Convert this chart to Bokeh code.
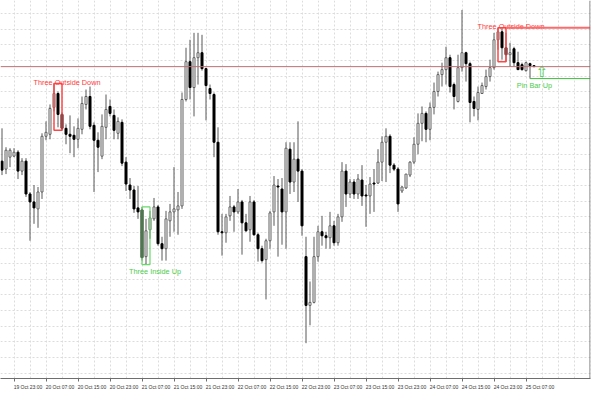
import numpy as np
import pandas as pd
from bokeh.plotting import figure
from bokeh.models import ColumnDataSource, FixedTicker, Range1d, Span
from bokeh.core.properties import value
from bokeh.embed import file_html
from bokeh.resources import INLINE

# ---------------- data (hourly candles, 19 Oct 20:00 -> 25 Oct 09:00) ----------------
start_time = "2023-10-19 20:00"

open_ = [1.0838, 1.0830, 1.0842, 1.0843, 1.0847, 1.0828, 1.0838, 1.0805, 1.0797, 1.0790,
         1.0807, 1.0863, 1.0865, 1.0892, 1.0906, 1.0885, 1.0871, 1.0865, 1.0864, 1.0860,
         1.0870, 1.0895, 1.0903, 1.0874, 1.0859, 1.0843, 1.0872, 1.0893, 1.0884, 1.0866,
         1.0877, 1.0837, 1.0814, 1.0809, 1.0791, 1.0789, 1.0742, 1.0769, 1.0780, 1.0792,
         1.0755, 1.0750, 1.0778, 1.0787, 1.0789, 1.0793, 1.0900, 1.0938, 1.0912, 1.0942,
         1.0947, 1.0931, 1.0911, 1.0905, 1.0857, 1.0767, 1.0766, 1.0783, 1.0792, 1.0787,
         1.0797, 1.0776, 1.0769, 1.0797, 1.0764, 1.0750, 1.0739, 1.0758, 1.0787, 1.0813,
         1.0810, 1.0787, 1.0850, 1.0817, 1.0840, 1.0828, 1.0742, 1.0693, 1.0696, 1.0742,
         1.0767, 1.0763, 1.0761, 1.0773, 1.0756, 1.0782, 1.0828, 1.0805, 1.0817, 1.0805,
         1.0819, 1.0804, 1.0803, 1.0816, 1.0816, 1.0837, 1.0857, 1.0863, 1.0834, 1.0830,
         1.0808, 1.0811, 1.0824, 1.0837, 1.0855, 1.0876, 1.0886, 1.0870, 1.0892, 1.0908,
         1.0925, 1.0930, 1.0942, 1.0915, 1.0898, 1.0932, 1.0947, 1.0936, 1.0898, 1.0890,
         1.0906, 1.0913, 1.0923, 1.0932, 1.0960, 1.0968, 1.0952, 1.0945, 1.0951, 1.0937,
         1.0935, 1.0929, 1.0936, 1.0934]

high = [1.0871, 1.0852, 1.0851, 1.0851, 1.0849, 1.0841, 1.0841, 1.0807, 1.0814, 1.0812,
        1.0866, 1.0878, 1.0895, 1.0916, 1.0908, 1.0887, 1.0875, 1.0884, 1.0873, 1.0881,
        1.0903, 1.0910, 1.0913, 1.0877, 1.0867, 1.0885, 1.0905, 1.0900, 1.0890, 1.0882,
        1.0880, 1.0842, 1.0821, 1.0813, 1.0813, 1.0792, 1.0780, 1.0788, 1.0801, 1.0794,
        1.0762, 1.0788, 1.0795, 1.0832, 1.0807, 1.0907, 1.0952, 1.0960, 1.0967, 1.0967,
        1.0965, 1.0932, 1.0915, 1.0907, 1.0872, 1.0785, 1.0785, 1.0803, 1.0794, 1.0810,
        1.0799, 1.0785, 1.0803, 1.0799, 1.0766, 1.0753, 1.0760, 1.0788, 1.0823, 1.0820,
        1.0821, 1.0857, 1.0857, 1.0857, 1.0878, 1.0830, 1.0762, 1.0717, 1.0762, 1.0773,
        1.0783, 1.0767, 1.0787, 1.0778, 1.0785, 1.0837, 1.0835, 1.0820, 1.0820, 1.0825,
        1.0834, 1.0814, 1.0822, 1.0830, 1.0850, 1.0863, 1.0871, 1.0865, 1.0836, 1.0832,
        1.0813, 1.0825, 1.0838, 1.0862, 1.0886, 1.0893, 1.0888, 1.0897, 1.0917, 1.0928,
        1.0937, 1.0953, 1.0945, 1.0917, 1.0945, 1.0990, 1.0948, 1.0938, 1.0903, 1.0913,
        1.0917, 1.0930, 1.0940, 1.0967, 1.0972, 1.0971, 1.0967, 1.0957, 1.0953, 1.0948,
        1.0937, 1.0938, 1.0937, 1.0934]

low = [1.0824, 1.0825, 1.0832, 1.0842, 1.0820, 1.0824, 1.0802, 1.0758, 1.0775, 1.0771,
       1.0800, 1.0859, 1.0860, 1.0888, 1.0872, 1.0869, 1.0855, 1.0846, 1.0842, 1.0851,
       1.0865, 1.0890, 1.0870, 1.0807, 1.0827, 1.0840, 1.0860, 1.0883, 1.0860, 1.0860,
       1.0833, 1.0808, 1.0800, 1.0786, 1.0780, 1.0738, 1.0734, 1.0760, 1.0778, 1.0753,
       1.0738, 1.0738, 1.0762, 1.0767, 1.0764, 1.0790, 1.0898, 1.0900, 1.0883, 1.0915,
       1.0929, 1.0879, 1.0900, 1.0842, 1.0764, 1.0743, 1.0756, 1.0778, 1.0767, 1.0785,
       1.0744, 1.0767, 1.0757, 1.0763, 1.0737, 1.0736, 1.0699, 1.0750, 1.0773, 1.0742,
       1.0754, 1.0750, 1.0805, 1.0807, 1.0797, 1.0763, 1.0655, 1.0673, 1.0695, 1.0737,
       1.0753, 1.0750, 1.0750, 1.0753, 1.0753, 1.0777, 1.0792, 1.0801, 1.0800, 1.0800,
       1.0793, 1.0772, 1.0785, 1.0787, 1.0815, 1.0818, 1.0817, 1.0826, 1.0828, 1.0787,
       1.0806, 1.0810, 1.0822, 1.0835, 1.0845, 1.0858, 1.0857, 1.0859, 1.0885, 1.0903,
       1.0913, 1.0915, 1.0907, 1.0890, 1.0897, 1.0928, 1.0918, 1.0877, 1.0883, 1.0879,
       1.0906, 1.0910, 1.0918, 1.0930, 1.0950, 1.0940, 1.0938, 1.0933, 1.0933, 1.0930,
       1.0929, 1.0928, 1.0921, 1.0933]

close = [1.0829, 1.0849, 1.0849, 1.0847, 1.0828, 1.0838, 1.0805, 1.0797, 1.0791, 1.0807,
         1.0863, 1.0867, 1.0891, 1.0906, 1.0885, 1.0871, 1.0865, 1.0863, 1.0860, 1.0871,
         1.0896, 1.0903, 1.0873, 1.0859, 1.0852, 1.0873, 1.0890, 1.0886, 1.0869, 1.0878,
         1.0836, 1.0815, 1.0809, 1.0790, 1.0787, 1.0741, 1.0768, 1.0781, 1.0792, 1.0755,
         1.0750, 1.0780, 1.0787, 1.0790, 1.0793, 1.0900, 1.0938, 1.0912, 1.0942, 1.0947,
         1.0931, 1.0914, 1.0906, 1.0857, 1.0767, 1.0766, 1.0782, 1.0792, 1.0787, 1.0797,
         1.0776, 1.0768, 1.0797, 1.0764, 1.0750, 1.0738, 1.0758, 1.0786, 1.0814, 1.0812,
         1.0787, 1.0851, 1.0817, 1.0840, 1.0828, 1.0773, 1.0693, 1.0696, 1.0742, 1.0767,
         1.0763, 1.0761, 1.0773, 1.0756, 1.0782, 1.0828, 1.0805, 1.0817, 1.0805, 1.0820,
         1.0803, 1.0803, 1.0815, 1.0815, 1.0837, 1.0857, 1.0863, 1.0834, 1.0830, 1.0795,
         1.0812, 1.0825, 1.0837, 1.0855, 1.0876, 1.0886, 1.0870, 1.0892, 1.0908, 1.0925,
         1.0930, 1.0942, 1.0913, 1.0903, 1.0932, 1.0947, 1.0936, 1.0897, 1.0891, 1.0907,
         1.0914, 1.0923, 1.0932, 1.0960, 1.0968, 1.0952, 1.0945, 1.0947, 1.0937, 1.0930,
         1.0930, 1.0937, 1.0934, 1.0933]

tick_labels = ["19 Oct 23:00", "20 Oct 07:00", "20 Oct 15:00", "20 Oct 23:00",
               "21 Oct 07:00", "21 Oct 15:00", "21 Oct 23:00", "22 Oct 07:00",
               "22 Oct 15:00", "22 Oct 23:00", "23 Oct 07:00", "23 Oct 15:00",
               "23 Oct 23:00", "24 Oct 07:00", "24 Oct 15:00", "24 Oct 23:00",
               "25 Oct 07:00"]

# candlestick patterns found: name, first bar, last bar, direction
pattern_names = ["Three Outside Down", "Three Inside Up", "Three Outside Down"]
pattern_first = [13, 35, 124]
pattern_last = [15, 37, 126]
pattern_dir = ["down", "up", "down"]

pinbar_name = "Pin Bar Up"
pinbar_bar = 132

# horizontal grid (price levels)
grid_top = 1.09863
grid_step = 0.001571
grid_levels = [grid_top - k * grid_step for k in range(25)]

# ---------------- derived ----------------
n = len(open_)
idx = np.arange(n)
times = pd.date_range(start_time, periods=n, freq="h")
time_str = [t.strftime("%d Oct %H:%M") for t in times]
tick_idx = [time_str.index(lbl) for lbl in tick_labels]
label_pos = [t + 3.5 for t in tick_idx]          # left-aligned look: label centre right of tick

o = np.array(open_); h = np.array(high); l = np.array(low); c = np.array(close)
bull = c >= o
src = ColumnDataSource(dict(
    x=idx, o=o, h=h, l=l, c=c,
    top=np.maximum(o, c), bottom=np.minimum(o, c),
    fill=np.where(bull, "white", "black"),
    line=np.where(bull, "#606060", "black"),
))

X0, X1 = -0.375, 147.125
Y1 = 1.09995
Y0 = Y1 - 0.0380

p = figure(width=592, height=392, output_backend="svg", toolbar_location=None,
           x_range=Range1d(X0, X1), y_range=Range1d(Y0, Y1),
           y_axis_location=None, min_border_left=0, min_border_right=2,
           min_border_top=0, min_border_bottom=12, outline_line_color=None,
           background_fill_color="white", border_fill_color="white")

# grids
p.xgrid.ticker = FixedTicker(ticks=list(range(tick_idx[0], int(X1) + 1, 4)))
p.ygrid.ticker = FixedTicker(ticks=grid_levels)
for g in (p.xgrid, p.ygrid):
    g.grid_line_color = "#dcdcdc"
    g.grid_line_dash = "2 2"
    g.grid_line_width = 1

# x axis: minor ticks mark the bar, major (invisible) ticks carry the labels
ax = p.xaxis[0]
ax.ticker = FixedTicker(ticks=label_pos, minor_ticks=tick_idx)
ax.major_label_overrides = {pos: lbl for pos, lbl in zip(label_pos, tick_labels)}
ax.axis_line_color = "#6e6e6e"
ax.major_tick_line_color = None
ax.minor_tick_line_color = "#6e6e6e"
ax.minor_tick_out = 3
ax.minor_tick_in = 0
ax.major_tick_out = 0
ax.major_tick_in = 0
ax.major_label_standoff = 2
ax.major_label_text_font = "Liberation Sans"
ax.major_label_text_font_size = "5px"
ax.major_label_text_color = "#333333"

# bid line (last close)
p.add_layout(Span(location=close[-1], dimension="width", line_color="#b87272", line_width=1))
# right border
p.add_layout(Span(location=X1 - 0.125, dimension="height", line_color="#6e6e6e", line_width=1))

# candles
p.segment(x0="x", y0="l", x1="x", y1="h", source=src, line_color="#585858", line_width=1)
p.vbar(x="x", width=0.5, top="top", bottom="bottom", source=src,
       fill_color="fill", line_color="line", line_width=1)

# pattern boxes and labels
for name, a, b, d in zip(pattern_names, pattern_first, pattern_last, pattern_dir):
    top = max(high[a:b + 1]); bot = min(low[a:b + 1])
    mid = (a + b) / 2
    if d == "down":
        col, tcol, lw = "#ff4646", "#ff3a3a", 1.5
        ty, yoff = top, -1.5
    else:
        col, tcol, lw = "#6ad86a", "#4ccc4c", 1.2
        ty, yoff = bot, 7
    p.quad(left=a, right=b, top=top, bottom=bot, fill_color=None,
           line_color=col, line_width=lw)
    p.text(x=[mid], y=[ty], text=[name], x_offset=9, y_offset=yoff,
           text_align="center", text_baseline="alphabetic",
           text_font=value("Liberation Sans"), text_font_size="7.3px", text_color=tcol)

# resistance line from the latest bearish pattern
last_down = max(i for i, d in enumerate(pattern_dir) if d == "down")
lv = max(high[pattern_first[last_down]:pattern_last[last_down] + 1])
p.segment(x0=[pattern_last[last_down]], y0=[lv], x1=[X1], y1=[lv],
          line_color="#ff6a6a", line_width=2)

# pin bar
pl = low[pinbar_bar]
p.segment(x0=[pinbar_bar], y0=[pl], x1=[X1], y1=[pl], line_color="#3fbf3f", line_width=1)
p.text(x=[pinbar_bar], y=[pl], text=[pinbar_name], x_offset=4.5, y_offset=7,
       text_align="center", text_baseline="alphabetic",
       text_font=value("Liberation Sans"), text_font_size="7.3px", text_color="#4ccc4c")
p.text(x=[pinbar_bar], y=[pl], text=["\u21e7"], x_offset=12, y_offset=-7,
       text_align="center", text_baseline="middle",
       text_font=value("DejaVu Sans"), text_font_size="15px", text_color="#4ccc4c")

open("out.html", "w").write(file_html(p, INLINE))
